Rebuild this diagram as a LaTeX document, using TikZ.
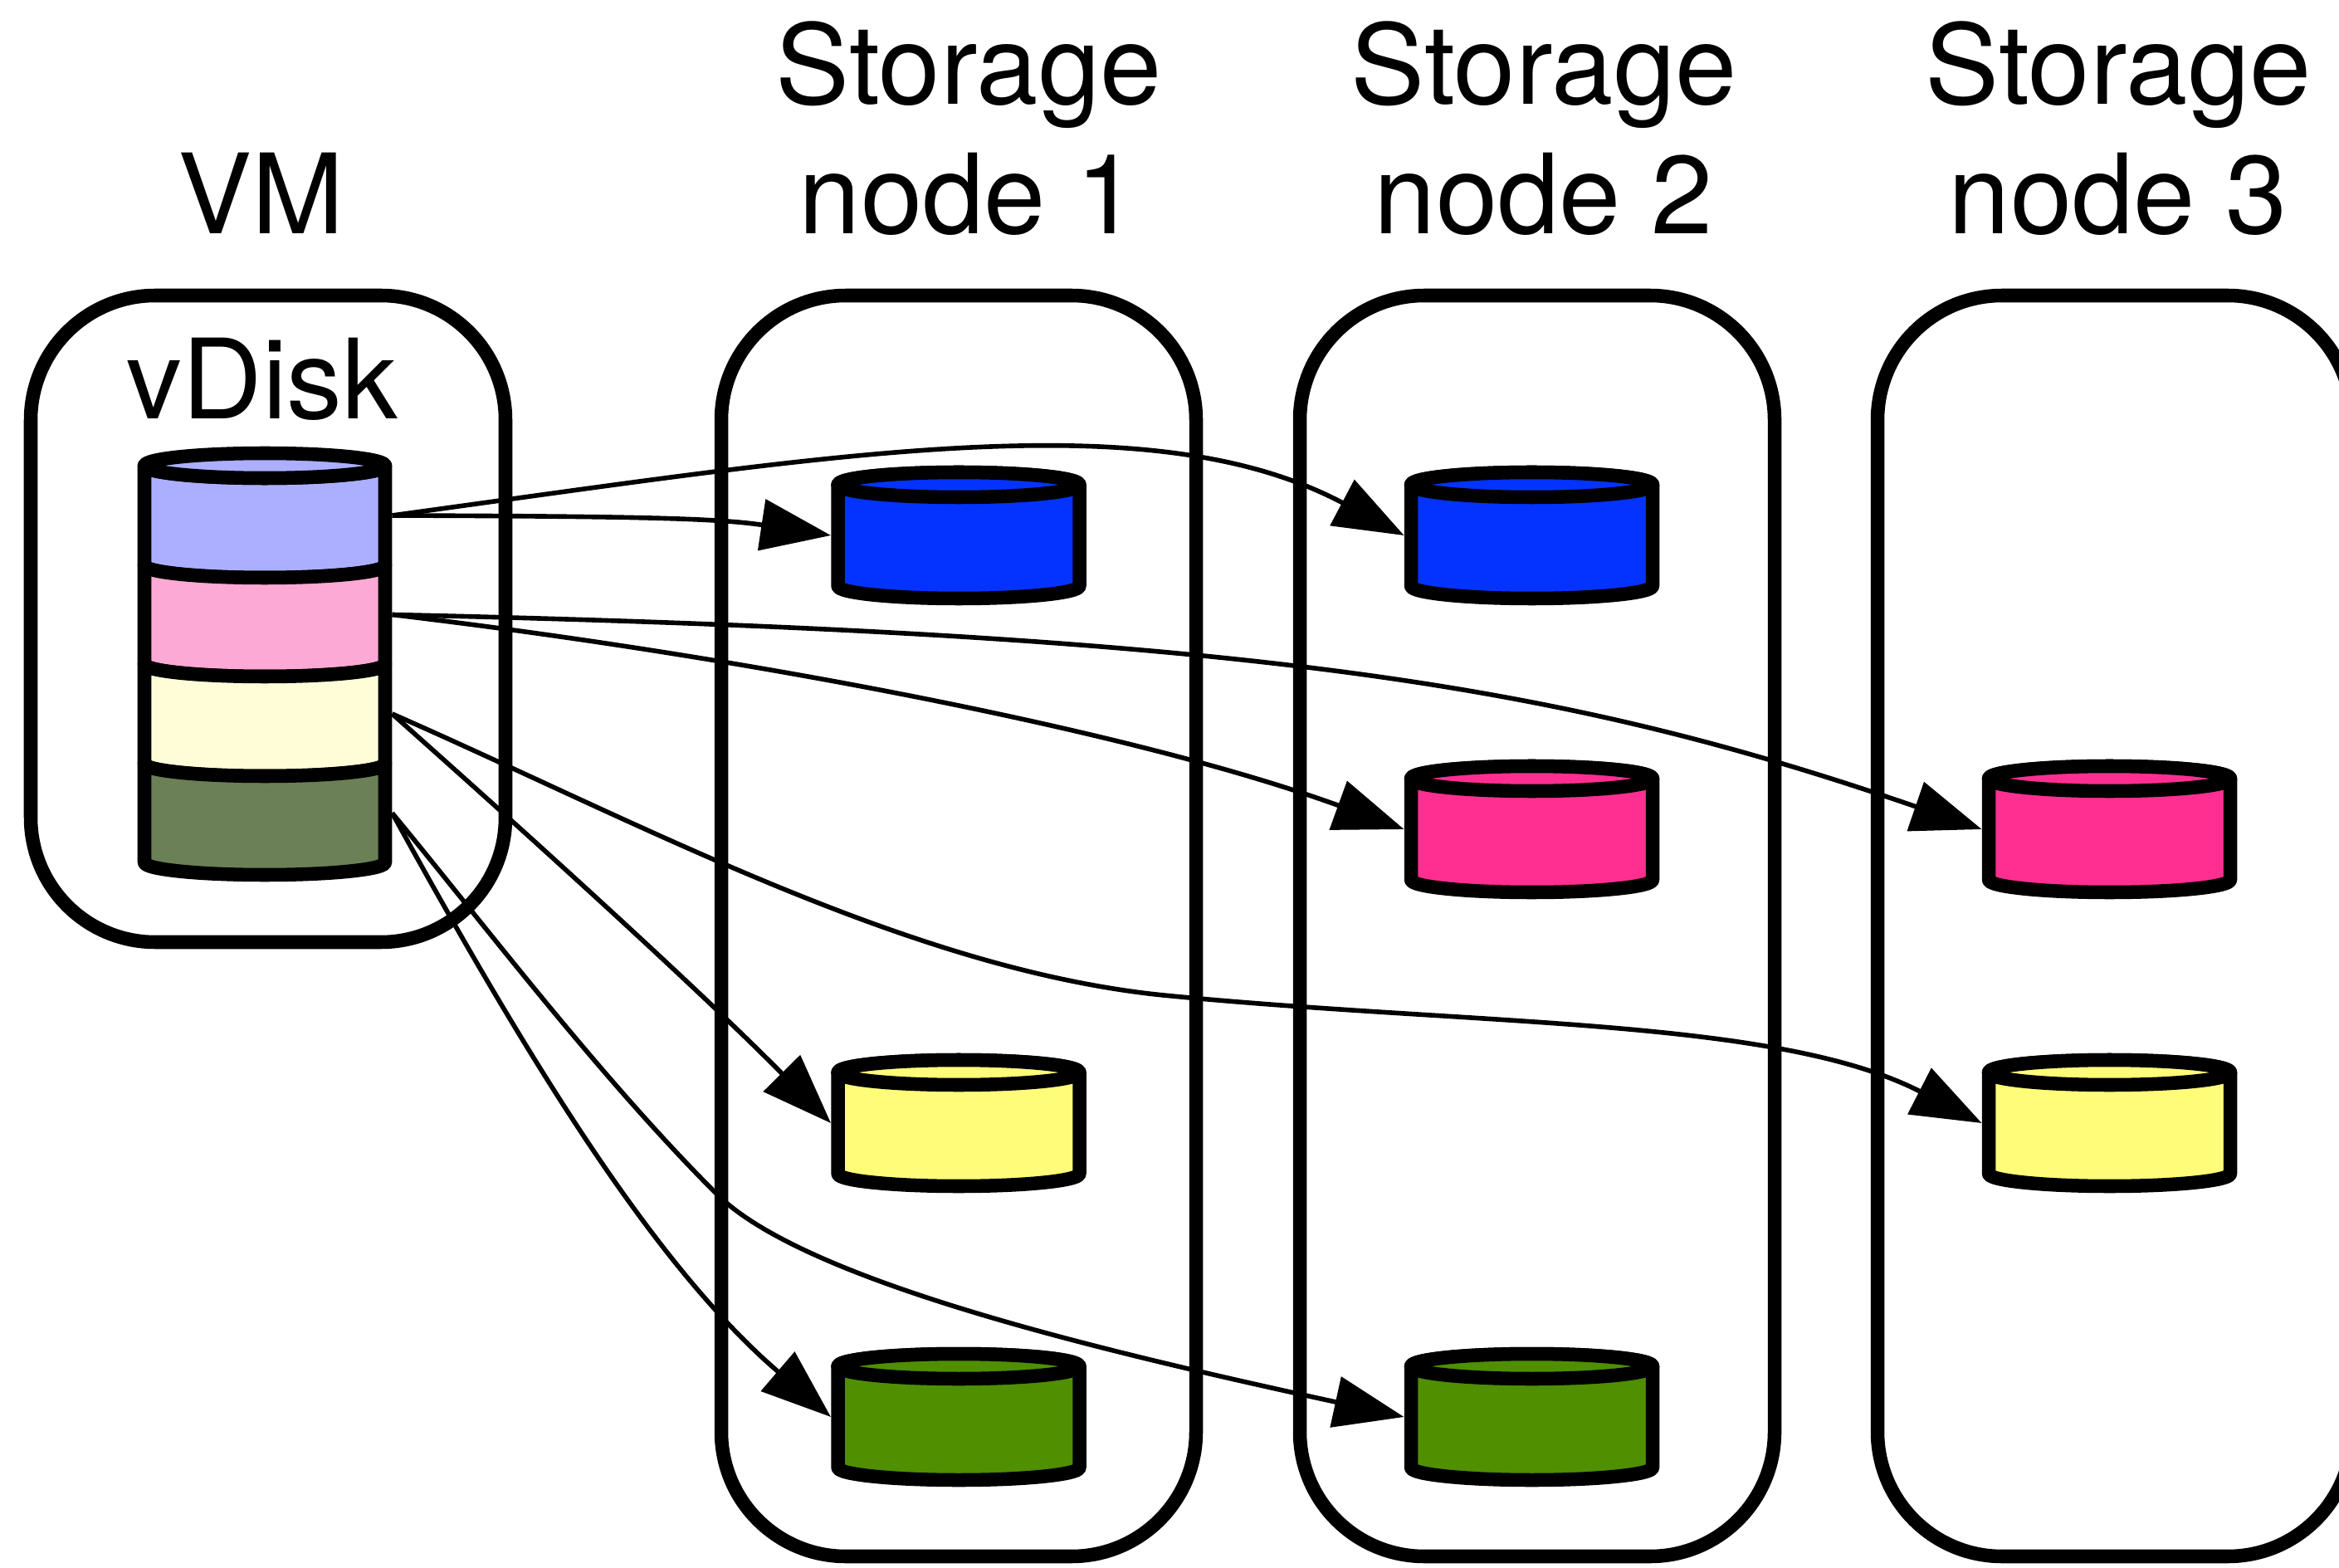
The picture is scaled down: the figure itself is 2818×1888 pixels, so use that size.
\documentclass[tikz,border=0pt]{standalone}
\usepackage{fontspec}
\setmainfont{TeX Gyre Heros}
\usetikzlibrary{arrows.meta}

\definecolor{vdlav}{RGB}{172,175,255}
\definecolor{vdpink}{RGB}{253,169,213}
\definecolor{vdcream}{RGB}{255,253,216}
\definecolor{vdgreen}{RGB}{107,128,87}
\definecolor{sblue}{RGB}{4,51,255}
\definecolor{spink}{RGB}{255,47,146}
\definecolor{syellow}{RGB}{255,252,121}
\definecolor{sgreen}{RGB}{79,143,0}

\tikzset{
  frame/.style={draw, line width=4.7pt, rounded corners=15mm, minimum width=57.2mm, inner sep=0pt},
  title/.style={font=\fontsize{38}{44}\selectfont, anchor=base, inner sep=0pt},
  slot/.style={inner sep=0pt, outer sep=0pt, minimum width=30.8mm, minimum height=12.2mm},
  rim/.style={line width=4.7pt, line join=round},
  link/.style={line width=1.6pt, -{Triangle[length=24pt,width=17.5pt]}},
}

% storage extent: centre x, top y, bottom y, fill colour, node name
\newcommand\storecyl[5]{%
  \filldraw[rim, fill=#4] ({#1-145.5},#2) -- ({#1-145.5},#3)
    arc[start angle=180, end angle=360, x radius=14.55mm, y radius=1.5mm]
    -- ({#1+145.5},#2)
    arc[start angle=0, end angle=180, x radius=14.55mm, y radius=1.5mm] -- cycle;
  \filldraw[rim, fill=#4] (#1,#2) ellipse[x radius=14.55mm, y radius=1.5mm];
  \node[slot] (#5) at (#1,{(#2+#3)/2}) {};
}

% one band of the virtual disk: top y, bottom y, fill colour, node name
\newcommand\vdband[4]{%
  \filldraw[rim, fill=#3] (174,#1)
    arc[start angle=180, end angle=360, x radius=14.5mm, y radius=1.5mm]
    -- (464,#2)
    arc[start angle=0, end angle=-180, x radius=14.5mm, y radius=1.5mm] -- cycle;
  \node[slot, minimum width=30.7mm, minimum height=11.9mm] (#4) at (319,{(#1+#2)/2}) {};
}

\begin{document}
\begin{tikzpicture}[x=0.1mm, y=0.1mm]
  \useasboundingbox (0,0) rectangle (2818,1888);
  \clip (0,0) rectangle (2818,1888);

  % hosts
  \node[frame, minimum height=77.9mm] (vm) at (323,1142.5) {};
  \node[frame, minimum height=151.9mm] (sn1) at (1155,772.5) {};
  \node[frame, minimum height=151.9mm] (sn2) at (1852,772.5) {};
  \node[frame, minimum height=151.9mm] (sn3) at (2548,772.5) {};

  % headings
  \node[title] (tvm) at (315,1606) {VM};
  \node[title] (ts1a) at (1167,1762) {Storage};
  \node[title] (ts1b) at (1167,1606) {node 1};
  \node[title] (ts2a) at (1860,1762) {Storage};
  \node[title] (ts2b) at (1860,1606) {node 2};
  \node[title] (ts3a) at (2552,1762) {Storage};
  \node[title] (ts3b) at (2552,1606) {node 3};
  \node[title] (tvd) at (316,1383) {vDisk};

  % virtual disk made of four bands
  \vdband{1327}{1207}{vdlav}{v1}
  \vdband{1207}{1088}{vdpink}{v2}
  \vdband{1088}{968}{vdcream}{v3}
  \vdband{968}{849}{vdgreen}{v4}
  \filldraw[rim, fill=vdlav] (319,1327) ellipse[x radius=14.5mm, y radius=1.5mm];

  % replicas on the storage nodes
  \storecyl{1155}{1304}{1182}{sblue}{s1b}
  \storecyl{1845.5}{1304}{1182}{sblue}{s2b}
  \storecyl{1845.5}{950}{828}{spink}{s2p}
  \storecyl{2541.5}{950}{828}{spink}{s3p}
  \storecyl{1155}{596}{474}{syellow}{s1y}
  \storecyl{2541.5}{596}{474}{syellow}{s3y}
  \storecyl{1155}{242}{120}{sgreen}{s1g}
  \storecyl{1845.5}{242}{120}{sgreen}{s2g}

  % waypoints of the two long S-shaped links
  \coordinate (w5) at (1402,689);
  \coordinate (w8) at (863,450);

  % replication links
  \draw[link] (v1.east) .. controls (755,1266) and (863,1264) .. (s1b.west);
  \draw[link] (v1.east) .. controls (1006,1340) and (1384,1406) .. (s2b.west);
  \draw[link] (v2.east) .. controls (899,1097) and (1366,1007) .. (s2p.west);
  \draw[link] (v2.east) .. controls (1527,1124) and (1887,1061) .. (s3p.west);
  \draw[link] (v3.east) .. controls (773,896) and (1096,720) .. (w5)
                        .. controls (1780,652) and (2140,662) .. (s3y.west);
  \draw[link] (v3.east) .. controls (647,873) and (845,693) .. (s1y.west);
  \draw[link] (v4.east) .. controls (640,604) and (791,361) .. (s1g.west);
  \draw[link] (v4.east) .. controls (575,785) and (719,594) .. (w8)
                        .. controls (970,343) and (1339,258) .. (s2g.west);
\end{tikzpicture}
\end{document}
